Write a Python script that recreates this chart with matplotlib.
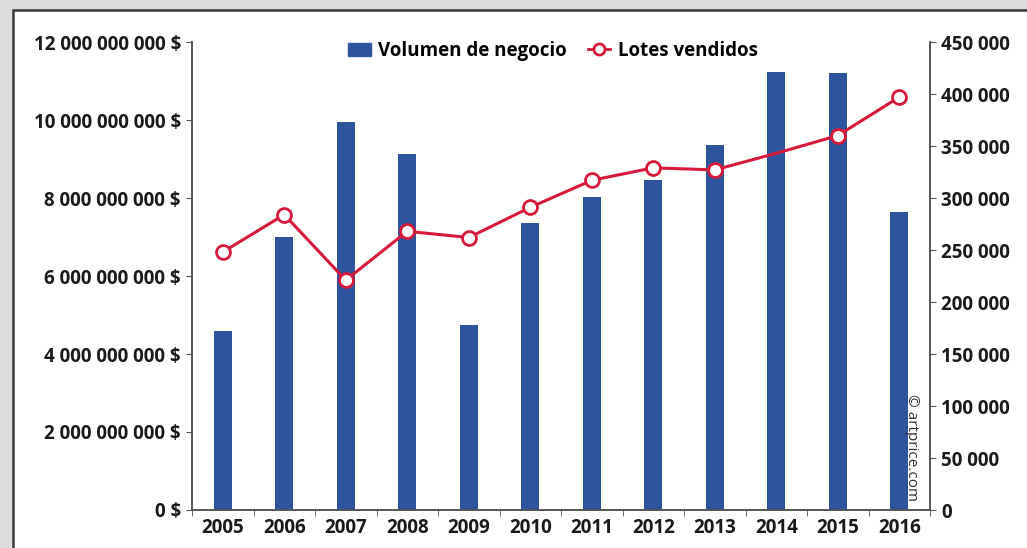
import numpy as np
import matplotlib.pyplot as plt
from matplotlib.patches import Rectangle
from matplotlib.lines import Line2D
from matplotlib.ticker import FuncFormatter

plt.rcParams['font.family'] = ['Open Sans', 'DejaVu Sans']

years = ['2005', '2006', '2007', '2008', '2009', '2010',
         '2011', '2012', '2013', '2014', '2015', '2016']
# turnover in dollars
volumen = [4.59e9, 7.00e9, 9.95e9, 9.13e9, 4.74e9, 7.36e9,
           8.03e9, 8.46e9, 9.36e9, 11.23e9, 11.20e9, 7.64e9]
# lots sold
lotes = [248000, 284000, 221000, 268000, 262000, 291000,
         317000, 329000, 327000, 343000, 360000, 397000]

bar_color = '#2f549e'
line_color = '#d7193a'
spine_color = '#555555'

def fmt_spaces(v):
    return f'{int(round(v)):,}'.replace(',', ' ')

fig = plt.figure(figsize=(10.27, 5.48), dpi=100)

# framed panel with a grey margin
fig.patches.append(Rectangle((0, 0), 1, 1, transform=fig.transFigure,
                             facecolor='#dcdcdc', edgecolor='none', zorder=-3))
fig.patches.append(Rectangle((13 / 1027, -0.05), 1.1, 1 - 10 / 548 + 0.05,
                             transform=fig.transFigure, facecolor='white',
                             edgecolor='#3a3a3a', lw=1.8, zorder=-2))

ax = fig.add_axes([192 / 1027, 1 - 510 / 548, (930 - 192) / 1027, (510 - 42) / 548])
ax.patch.set_alpha(0)
x = np.arange(len(years))
ax.bar(x, volumen, width=0.3, color=bar_color, zorder=2)
ax.set_xlim(-0.5, len(years) - 0.5)
ax.set_ylim(0, 12e9)
ax.set_yticks(np.arange(0, 12.1e9, 2e9))
ax.yaxis.set_major_formatter(FuncFormatter(lambda v, p: fmt_spaces(v) + ' $'))
ax.set_xticks(x)
ax.set_xticklabels(years)
ax.set_xticks(np.arange(-0.5, len(years), 1), minor=True)
ax.tick_params(axis='x', which='major', length=0, pad=6)
ax.tick_params(axis='x', which='minor', length=4, color=spine_color)
ax.tick_params(axis='y', length=4, color=spine_color, pad=4)
for lab in ax.get_xticklabels() + ax.get_yticklabels():
    lab.set_fontsize(13.5)
    lab.set_fontweight('bold')
    lab.set_color('#1a1a1a')

ax2 = ax.twinx()
ax2.plot(x, lotes, color=line_color, lw=2.2, marker='o', ms=10,
         mfc='white', mec=line_color, mew=2,
         markevery=[i for i in range(len(years)) if years[i] != '2014'], zorder=3)
ax2.set_ylim(0, 450000)
ax2.set_yticks(np.arange(0, 450001, 50000))
ax2.yaxis.set_major_formatter(FuncFormatter(lambda v, p: fmt_spaces(v)))
ax2.tick_params(axis='y', length=4, color=spine_color, pad=4)
for lab in ax2.get_yticklabels():
    lab.set_fontsize(13.5)
    lab.set_fontweight('bold')
    lab.set_color('#1a1a1a')

for a in (ax, ax2):
    a.spines['top'].set_visible(False)
    for s in ('left', 'right', 'bottom'):
        a.spines[s].set_color(spine_color)
        a.spines[s].set_linewidth(1.2)

handles = [Rectangle((0, 0), 1, 1, color=bar_color),
           Line2D([], [], color=line_color, lw=2, marker='o', ms=8,
                  mfc='white', mec=line_color, mew=2)]
leg = fig.legend(handles, ['Volumen de negocio', 'Lotes vendidos'],
                 loc='center', bbox_to_anchor=(553 / 1027, 1 - 51 / 548),
                 ncol=2, frameon=False, handlelength=1.2, handletextpad=0.4,
                 columnspacing=1.1, prop={'weight': 'bold', 'size': 13.5})

ax2.text(0.975, 0.02, '© artprice.com', transform=ax2.transAxes,
         rotation=-90, ha='center', va='bottom', fontsize=11, color='#333333')

fig.savefig('out.png', dpi=100)
